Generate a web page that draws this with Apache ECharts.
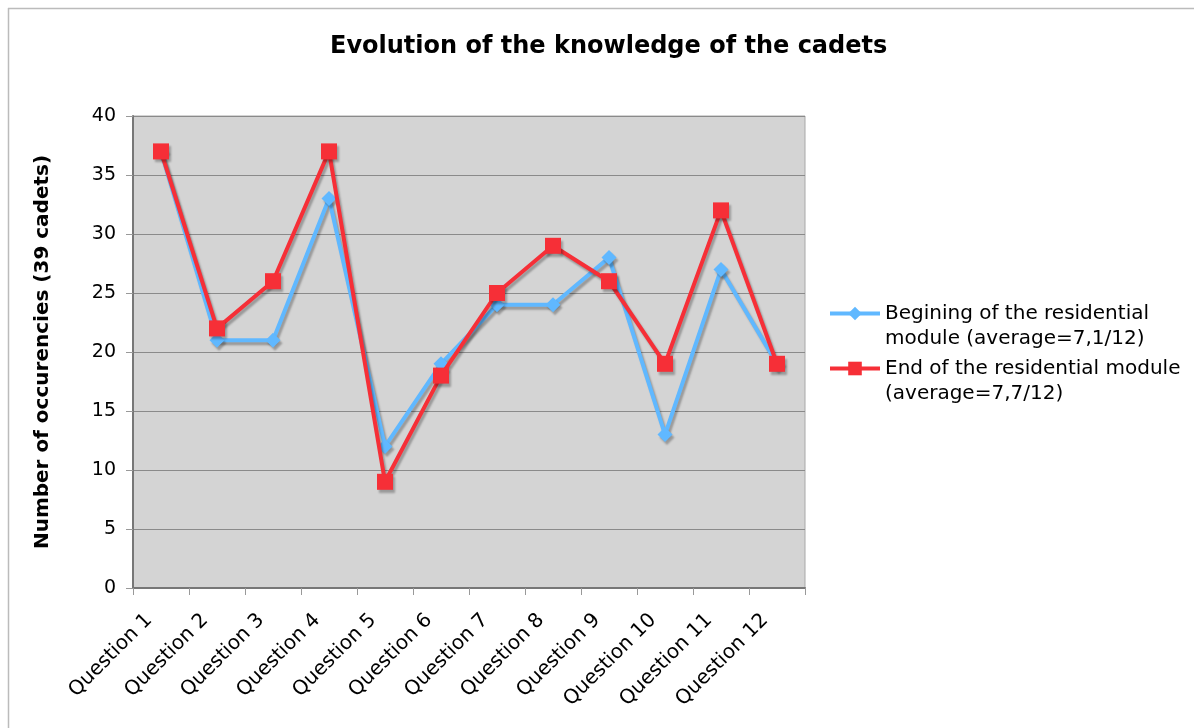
<!DOCTYPE html>
<html>
<head>
<meta charset="utf-8">
<script src="https://cdn.jsdelivr.net/npm/echarts@6/dist/echarts.min.js"></script>
<style>html,body{margin:0;padding:0;background:#fff;}#c{width:1194px;height:728px;}</style>
</head>
<body>
<div id="c"></div>
<script>
const categories = ['Question 1','Question 2','Question 3','Question 4','Question 5','Question 6','Question 7','Question 8','Question 9','Question 10','Question 11','Question 12'];
const beginValues = [37, 21, 21, 33, 12, 19, 24, 24, 28, 13, 27, 19];
const endValues = [37, 22, 26, 37, 9, 18, 25, 29, 26, 19, 32, 19];
const seriesNames = ['Begining of the residential module (average=7,1/12)', 'End of the residential module (average=7,7/12)'];
const legendLabels = ['Begining of the residential\nmodule (average=7,1/12)', 'End of the residential module\n(average=7,7/12)'];

const FONT = 'DejaVu Sans';
const chart = echarts.init(document.getElementById('c'), null, {renderer: 'canvas'});
const shadow = {shadowColor: 'rgba(0,0,0,0.28)', shadowBlur: 2, shadowOffsetX: 2, shadowOffsetY: 3};
chart.setOption({
  animation: false,
  backgroundColor: '#fff',
  textStyle: {fontFamily: FONT},
  title: {
    text: 'Evolution of the knowledge of the cadets',
    left: 325, top: 30,
    textStyle: {fontFamily: FONT, fontWeight: 'bold', fontSize: 24, color: '#000'}
  },
  graphic: [
    {type: 'line', shape: {x1: 8, y1: 8.5, x2: 1194, y2: 8.5}, style: {stroke: '#bbb', lineWidth: 1.5}},
    {type: 'line', shape: {x1: 8.5, y1: 8, x2: 8.5, y2: 728}, style: {stroke: '#bbb', lineWidth: 1.5}}
  ],
  legend: {
    orient: 'vertical',
    left: 828, top: 276,
    padding: 0,
    itemWidth: 50, itemHeight: 17,
    itemGap: -20,
    lineStyle: {width: 4},
    data: seriesNames,
    formatter: function (name) { return ' \n' + legendLabels[seriesNames.indexOf(name)]; },
    textStyle: {fontFamily: FONT, fontSize: 20, color: '#000', lineHeight: 25}
  },
  grid: {left: 133, top: 116, right: 389, bottom: 140, show: true, backgroundColor: '#d4d4d4', borderColor: '#a8a8a8', borderWidth: 1},
  xAxis: {
    type: 'category',
    data: categories,
    boundaryGap: true,
    axisLine: {lineStyle: {color: '#777', width: 2}},
    axisTick: {show: true, length: 7, lineStyle: {color: '#999'}, alignWithLabel: false},
    axisLabel: {rotate: 45, fontFamily: FONT, fontSize: 20, color: '#000', margin: 17, padding: [0, 17, 0, 0], interval: 0}
  },
  yAxis: {
    type: 'value',
    min: 0, max: 40, interval: 5,
    name: 'Number of occurencies (39 cadets)',
    nameLocation: 'middle',
    nameGap: 80,
    nameTextStyle: {fontFamily: FONT, fontWeight: 'bold', fontSize: 20, color: '#000'},
    axisLine: {show: true, lineStyle: {color: '#777', width: 2}},
    axisTick: {show: true, length: 7, lineStyle: {color: '#999'}},
    axisLabel: {fontFamily: FONT, fontSize: 19, color: '#000', margin: 17},
    splitLine: {show: true, lineStyle: {color: '#8a8a8a', width: 1}}
  },
  series: [
    {
      name: seriesNames[0], type: 'line', data: beginValues,
      symbol: 'diamond', symbolSize: 15,
      lineStyle: Object.assign({color: '#60b8ff', width: 4}, shadow),
      itemStyle: Object.assign({color: '#60b8ff'}, shadow),
      z: 2
    },
    {
      name: seriesNames[1], type: 'line', data: endValues,
      symbol: 'rect', symbolSize: 16,
      lineStyle: Object.assign({color: '#f62f37', width: 4}, shadow),
      itemStyle: Object.assign({color: '#f62f37'}, shadow),
      z: 3
    }
  ]
});
</script>
</body>
</html>
